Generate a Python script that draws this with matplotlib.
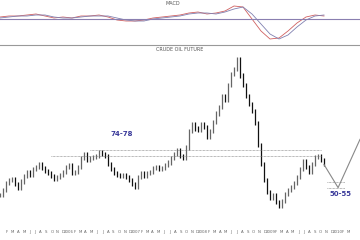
import numpy as np
import matplotlib
matplotlib.use("Agg")
import matplotlib.pyplot as plt

# weekly-ish closes, one bar every 3 px (x = bar index)
closes = [45, 49, 54, 56, 57, 53, 50, 55, 59, 62, 60, 64, 66, 68, 65, 63, 61, 59, 57, 58,
          60, 62, 66, 67, 61, 62, 66, 72, 75, 71, 72, 73, 74, 77, 75, 74, 68, 64, 61, 60,
          59, 60, 58, 56, 53, 51, 58, 61, 59, 61, 62, 65, 66, 64, 65, 67, 69, 72, 75, 78,
          74, 72, 80, 92, 97, 94, 93, 97, 95, 88, 92, 99, 105, 110, 118, 115, 126, 134, 138, 145,
          133, 126, 118, 112, 107, 98, 82, 68, 56, 47, 43, 45, 40, 37, 41, 46, 49, 51, 54, 58,
          64, 70, 66, 62, 68, 73, 74, 71, 68]

# MACD and signal, one point every 3 bars
macd_x = list(range(0, 109, 3))
macd = [2, 3, 3, 4, 5, 3, 1, 2, 1, 3, 3, 4, 2, -1, -2, -2, -1, 1, 2, 3,
        4, 6, 7, 5, 6, 8, 13, 12, 0, -12, -20, -19, -12, -4, 2, 4, 3]
signal = [1, 2, 3, 3, 4, 4, 2, 1, 1, 2, 3, 3, 3, 1, -1, -2, -2, 0, 1, 2,
          3, 5, 6, 6, 5, 7, 10, 12, 5, -5, -15, -20, -16, -8, -1, 3, 4]

# projection (bar index, price)
proj_x = [108, 112.7, 120]
proj_y = [67.5, 50.5, 86]

zone_hi = [74, 78]
zone_lo = [50, 55]

months = ["J", "F", "M", "A", "M", "J", "J", "A", "S", "O", "N", "D"]

fig = plt.figure(figsize=(3.6, 2.4), dpi=100)
fig.patch.set_facecolor("white")

# MACD panel
ax1 = fig.add_axes([0, (240 - 44) / 240, 1, 44 / 240])
ax1.plot(macd_x, macd, color="#d06060", lw=0.6)
ax1.plot(macd_x, signal, color="#8080b0", lw=0.6)
ax1.axhline(0, color="#8a7fb0", lw=0.8)
ax1.set_xlim(0, 120)
ax1.set_ylim(-25, 19)
ax1.axis("off")
ax1.text(57.5, 15.5, "MACD", fontsize=3.5, color="#555555", ha="center", va="center")

# main panel
ax = fig.add_axes([0, 14 / 240, 1, (226 - 45) / 240])
ax.set_xlim(0, 120)
ax.set_ylim(22.3, 155.4)
for s in ["left", "right", "bottom"]:
    ax.spines[s].set_visible(False)
ax.spines["top"].set_color("#999999")
ax.spines["top"].set_linewidth(0.8)

xs = np.arange(len(closes))
opens = [closes[0]] + closes[:-1]
for i in xs:
    c = "#111111" if closes[i] < opens[i] else "#666666"
    lo = min(opens[i], closes[i]) - 1.5
    hi = max(opens[i], closes[i]) + 1.5
    ax.vlines(i, lo, hi, color=c, lw=0.9)

ax.hlines(zone_hi[0], 17, 107, color="#777777", lw=0.5, linestyles=(0, (1, 1)))
ax.hlines(zone_hi[1], 30, 107, color="#777777", lw=0.5, linestyles=(0, (1, 1)))
ax.hlines(zone_lo, 109, 115, color="#777777", lw=0.5, linestyles=(0, (1, 1)))
ax.plot(proj_x, proj_y, color="#888888", lw=0.8, clip_on=True)

ax.text(40.5, 88.5, "74-78", fontsize=5, color="#3a3a9a", fontweight="bold", ha="center")
ax.text(113.5, 44.5, "50-55", fontsize=5, color="#3a3a9a", fontweight="bold", ha="center")
ax.text(60, 152, "CRUDE OIL FUTURE", fontsize=3.5, color="#555555", ha="center", va="center")

ticks = []
labels = []
for m in range(1, 63):
    ticks.append(m * 5.6 / 3 + 0.5)
    labels.append(str(2005 + m // 12) if m % 12 == 0 else months[m % 12])
ax.set_xticks(ticks)
ax.set_xticklabels(labels, fontsize=2.8, color="#666666")
ax.tick_params(axis="x", length=0, pad=3)
ax.set_yticks([])

fig.savefig("out.png", dpi=100, facecolor="white")
